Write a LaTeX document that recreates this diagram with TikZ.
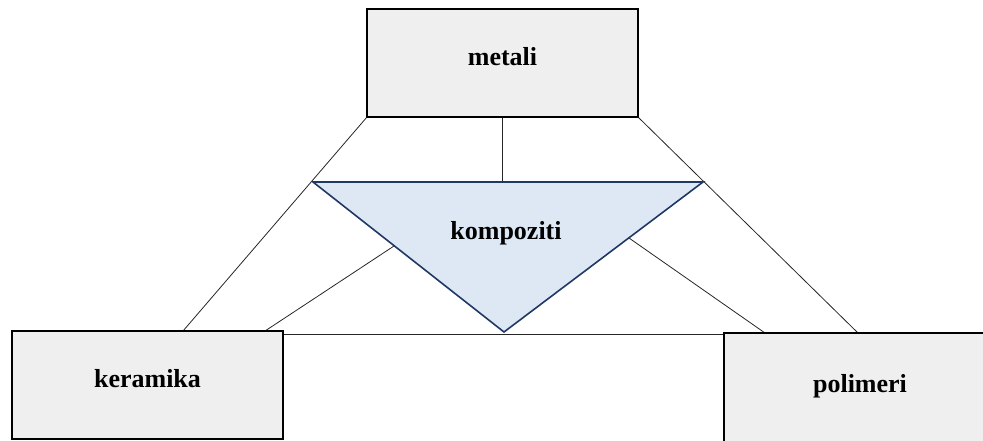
\documentclass[tikz,border=0pt]{standalone}
\usepackage{fontspec}
\setmainfont{Liberation Serif}
\definecolor{boxgray}{HTML}{EFEFEF}
\definecolor{trifill}{HTML}{DEE8F5}
\definecolor{tridraw}{HTML}{1F3864}
\begin{document}
\begin{tikzpicture}[x=1pt,y=1pt,
  matbox/.style={draw=black, line width=2pt, fill=boxgray, minimum width=271pt, minimum height=108pt,
    inner sep=0pt, text height=17pt, text depth=12pt, font=\fontsize{26}{31}\selectfont\bfseries},
  link/.style={draw=black!85, line width=0.8pt},
  tri/.style={draw=tridraw, line width=1.6pt, fill=trifill, line join=miter},
  lbl/.style={font=\fontsize{26}{31}\selectfont\bfseries, inner sep=0pt}]
\useasboundingbox (0,0) rectangle (983,-440);
\clip (0,0) rectangle (983,-440);
% triangle corners
\coordinate (tl) at (313,-182);
\coordinate (tr) at (703,-182);
\coordinate (tb) at (504,-332);
% connector end points
\coordinate (kA) at (183,-331);
\coordinate (kB) at (265,-331);
\coordinate (kC) at (283,-334);
\coordinate (pA) at (858,-333);
\coordinate (pB) at (765,-333);
\coordinate (pC) at (724,-334);
\coordinate (tL) at (394,-246);
\coordinate (tR) at (629,-238);
% connectors
\draw[link] (502.5,-117) coordinate (mS) -- (mS |- tl);
\draw[link] (367,-117) coordinate (mSW) -- (kA);
\draw[link] (638,-117) coordinate (mSE) -- (pA);
\draw[link] (tL) -- (kB);
\draw[link] (tR) -- (pB);
\draw[link] (kC) -- (pC);
% triangle
\draw[tri] (tl) -- (tr) -- (tb) -- cycle;
\node[lbl, anchor=base] (komp) at (506,-239) {kompoziti};
% boxes
\node[matbox] (metali) at (502.5,-63) {metali};
\node[matbox] (keramika) at (147.5,-385) {keramika};
\node[matbox, minimum width=280pt, minimum height=120pt, text depth=19pt] (polimeri) at (864,-393) {\hspace*{-8pt}polimeri};
\end{tikzpicture}
\end{document}
